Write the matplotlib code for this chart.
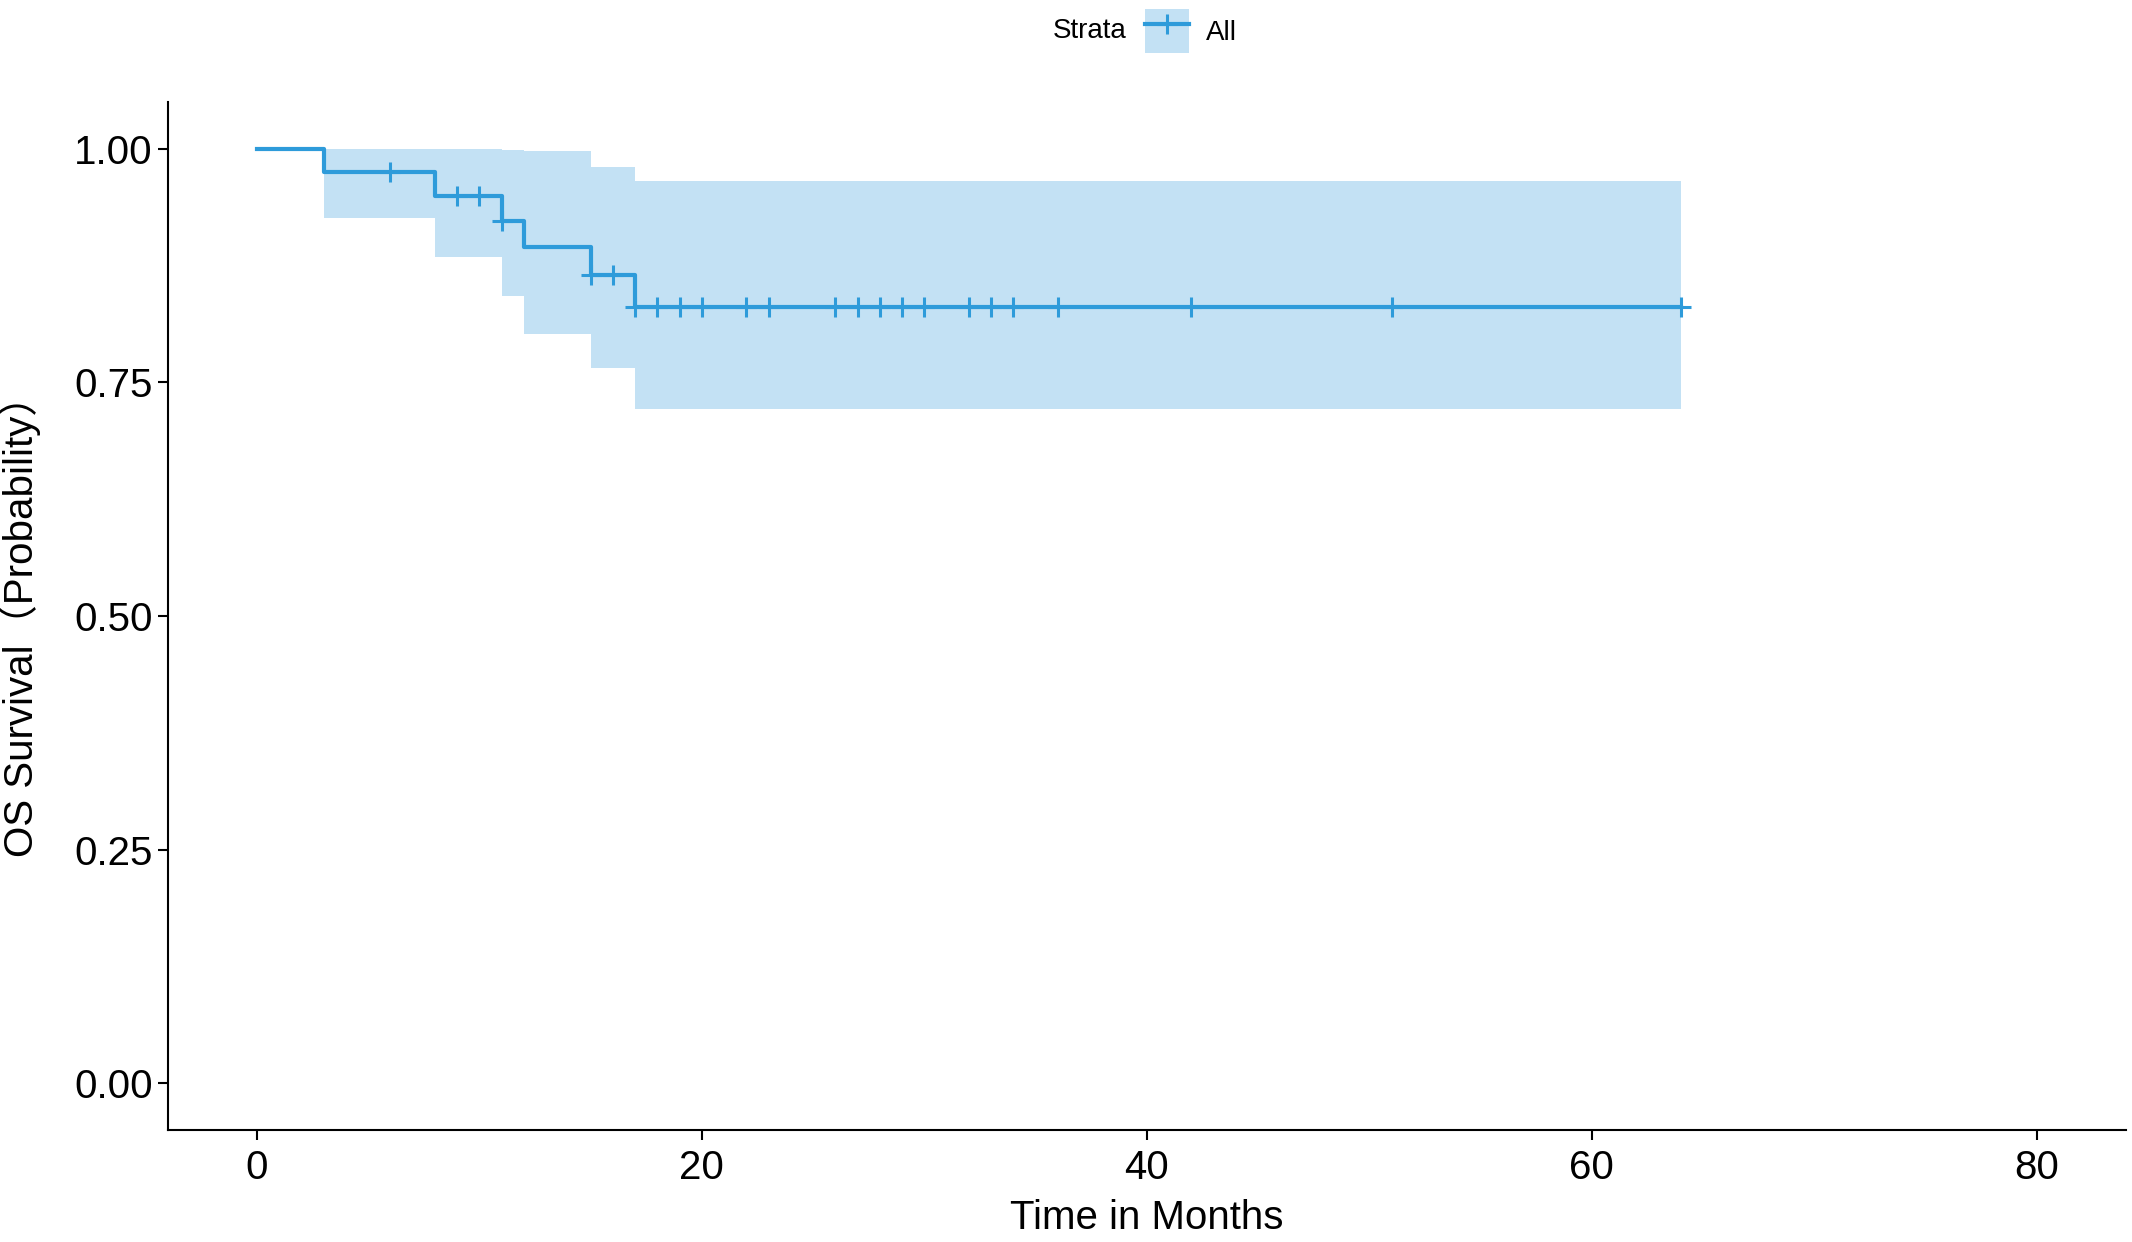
import numpy as np
import matplotlib
matplotlib.use("Agg")
import matplotlib.pyplot as plt
from matplotlib.patches import Patch
from matplotlib.lines import Line2D
from matplotlib.legend_handler import HandlerTuple

plt.rcParams['font.family'] = ['Liberation Sans', 'Noto Sans CJK SC', 'DejaVu Sans']

# Kaplan-Meier estimate (step changes)
step_times = [0, 3, 8, 11, 12, 15, 17, 64]
surv = [1.000, 0.975, 0.949, 0.922, 0.895, 0.865, 0.831, 0.831]
ci_upper = [1.000, 1.000, 1.000, 0.999, 0.997, 0.980, 0.965, 0.965]
ci_lower = [1.000, 0.926, 0.884, 0.842, 0.802, 0.765, 0.721, 0.721]

# censored observations (months)
censor_times = [6, 9, 10, 11, 15, 16, 17, 18, 19, 20, 22, 23, 26, 27, 28,
                29, 30, 32, 33, 34, 36, 42, 51, 64]

x_ticks = [0, 20, 40, 60, 80]
y_ticks = [0.00, 0.25, 0.50, 0.75, 1.00]
y_tick_labels = ['0.00', '0.25', '0.50', '0.75', '1.00']

line_col = '#2E9BDA'
band_col = '#C3E1F4'

fig = plt.figure(figsize=(21.32, 12.42), dpi=100)
ax = fig.add_axes([0.0788, 0.0902, 0.9182, 0.8278])

# confidence band + curve
ax.fill_between(step_times, ci_lower, ci_upper, step='post', color=band_col, lw=0)
ax.step(step_times, surv, where='post', color=line_col, lw=3)

# censor marks on the curve
idx = np.searchsorted(step_times, censor_times, side='right') - 1
censor_surv = np.array(surv)[idx]
ax.plot(censor_times, censor_surv, ls='none', marker='+', ms=15, mew=2.2,
        color=line_col)

ax.set_xlim(-4, 84)
ax.set_ylim(-0.05, 1.05)
ax.set_xticks(x_ticks)
ax.set_yticks(y_ticks)
ax.set_yticklabels(y_tick_labels)

for s in ['top', 'right']:
    ax.spines[s].set_visible(False)
for s in ['left', 'bottom']:
    ax.spines[s].set_linewidth(1.5)
    ax.spines[s].set_color('black')
ax.tick_params(axis='both', length=7, width=1.5, color='black',
               labelsize=29, labelcolor='black')
ax.tick_params(axis='y', pad=4)
ax.tick_params(axis='x', pad=7)

ax.set_xlabel('Time in Months', fontsize=29)
ax.set_ylabel('OS Survival（Probability）', fontsize=29)
ax.xaxis.set_label_coords(0.5, -0.067)
ax.yaxis.set_label_coords(-0.065, 0.5)

# legend on top
fig.text(0.494, 0.975, 'Strata', fontsize=20, va='center', ha='left')
key = (Patch(facecolor=band_col, edgecolor='none'),
       Line2D([], [], color=line_col, lw=3, marker='+', ms=15, mew=2.2))
fig.legend(handles=[key], labels=['All'],
           handler_map={tuple: HandlerTuple(ndivide=1, pad=0)},
           loc='center left', bbox_to_anchor=(0.537, 0.975), frameon=False,
           fontsize=20, handlelength=1.6, handleheight=2.1, handletextpad=0.6,
           borderpad=0, borderaxespad=0)

fig.savefig('out.png', dpi=100, facecolor='white')
